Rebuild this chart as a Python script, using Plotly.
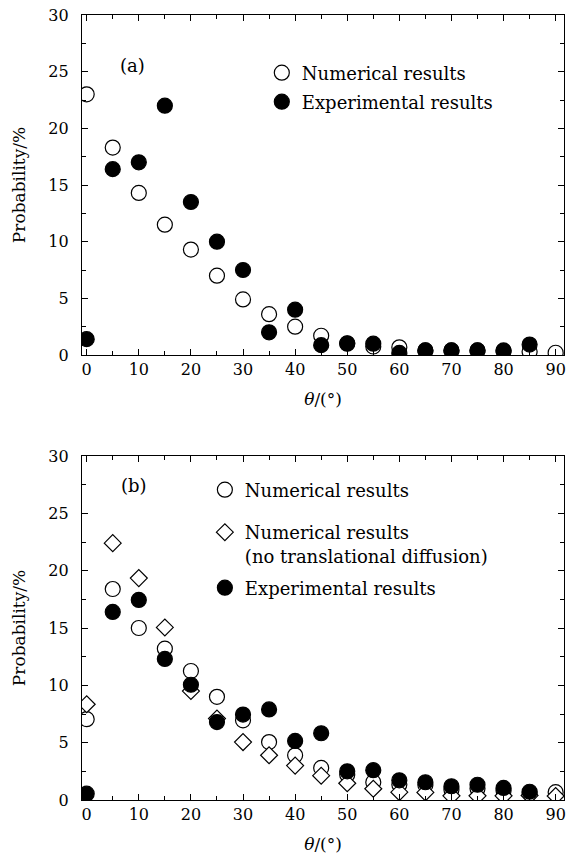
import plotly.graph_objects as go

# ---------------- data ----------------
theta = [0, 5, 10, 15, 20, 25, 30, 35, 40, 45, 50, 55, 60, 65, 70, 75, 80, 85, 90]
theta_exp = [0, 5, 10, 15, 20, 25, 30, 35, 40, 45, 50, 55, 60, 65, 70, 75, 80, 85]

a_numerical = [23.0, 18.3, 14.3, 11.5, 9.3, 7.0, 4.9, 3.6, 2.5, 1.7, 1.0, 0.75, 0.68,
               0.4, 0.4, 0.4, 0.35, 0.3, 0.2]
a_experimental = [1.4, 16.4, 17.0, 22.0, 13.5, 10.0, 7.5, 2.0, 4.0, 0.87, 1.03, 1.0,
                  0.18, 0.4, 0.4, 0.4, 0.4, 0.92]

b_numerical = [7.05, 18.4, 15.0, 13.2, 11.25, 9.0, 6.95, 5.05, 3.9, 2.8, 2.2, 1.55,
               1.35, 1.3, 0.9, 1.0, 0.8, 0.6, 0.68]
b_no_diffusion = [8.35, 22.4, 19.35, 15.05, 9.5, 7.1, 5.05, 3.9, 3.0, 2.12, 1.46, 0.98,
                  0.68, 0.66, 0.36, 0.36, 0.36, 0.4, 0.35]
b_experimental = [0.55, 16.4, 17.45, 12.3, 10.05, 6.8, 7.45, 7.9, 5.15, 5.82, 2.5, 2.6,
                  1.72, 1.55, 1.2, 1.33, 1.05, 0.72]

x_ticks = [0, 10, 20, 30, 40, 50, 60, 70, 80, 90]
y_ticks = [0, 5, 10, 15, 20, 25, 30]

FONT = "DejaVu Serif"
TICK_FS = 16
LEG_FS = 18
TITLE_FS = 17
W, H = 567, 856
ML, MR, MT, MB = 82, 2.5, 15, 56
PH = H - MT - MB


def py(pix):
    return (H - MB - pix) / PH


def px(pix):
    return (pix - ML) / (W - ML - MR)


open_circle = dict(symbol="circle", size=15, color="white", line=dict(color="black", width=1.2))
filled_circle = dict(symbol="circle", size=15, color="black", line=dict(color="black", width=1.2))
open_diamond = dict(symbol="diamond", size=13, color="white", line=dict(color="black", width=1.2))

fig = go.Figure()

# panel (a)
fig.add_trace(go.Scatter(x=theta, y=a_numerical, mode="markers", marker=open_circle,
                         name="Numerical results", xaxis="x", yaxis="y", legend="legend"))
fig.add_trace(go.Scatter(x=theta_exp, y=a_experimental, mode="markers", marker=filled_circle,
                         name="Experimental results", xaxis="x", yaxis="y", legend="legend2"))

# panel (b)
fig.add_trace(go.Scatter(x=theta, y=b_numerical, mode="markers", marker=open_circle,
                         name="Numerical results", xaxis="x2", yaxis="y2", legend="legend3"))
fig.add_trace(go.Scatter(x=theta, y=b_no_diffusion, mode="markers", marker=open_diamond,
                         name="Numerical results<br>(no translational diffusion)",
                         xaxis="x2", yaxis="y2", legend="legend4"))
fig.add_trace(go.Scatter(x=theta_exp, y=b_experimental, mode="markers", marker=filled_circle,
                         name="Experimental results", xaxis="x2", yaxis="y2", legend="legend5"))

axis_common = dict(
    showline=True, linecolor="black", linewidth=1.2, mirror="allticks",
    ticks="inside", ticklen=6, tickwidth=1, tickcolor="black",
    showgrid=False, zeroline=False,
    tickfont=dict(family=FONT, size=TICK_FS, color="black"),
)
xcommon = dict(axis_common, range=[-0.9, 91.6], tickvals=x_ticks,
               minor=dict(dtick=5, tick0=0, ticks="inside", ticklen=3.5, tickwidth=1, tickcolor="black"),
               title=dict(text="<i>θ</i>/(°)", font=dict(family=FONT, size=TITLE_FS, color="black"), standoff=14))
ycommon = dict(axis_common, range=[0, 30], tickvals=y_ticks, ticklabelstandoff=9,
               minor=dict(dtick=2.5, tick0=0, ticks="inside", ticklen=3.5, tickwidth=1, tickcolor="black"),
               title=dict(text="Probability/%", font=dict(family=FONT, size=TITLE_FS, color="black"), standoff=18))

legend_common = dict(font=dict(family=FONT, size=LEG_FS, color="black"), bgcolor="rgba(0,0,0,0)",
                     xanchor="left", yanchor="middle", itemsizing="trace", valign="top",
                     borderwidth=0)

fig.update_layout(
    width=W, height=H,
    margin=dict(l=ML, r=MR, t=MT, b=MB),
    paper_bgcolor="white", plot_bgcolor="white",
    showlegend=True,
    xaxis=dict(xcommon, domain=[0, 1], anchor="y"),
    yaxis=dict(ycommon, domain=[py(355), 1.0], anchor="x"),
    xaxis2=dict(xcommon, domain=[0, 1], anchor="y2"),
    yaxis2=dict(ycommon, domain=[0, py(456)], anchor="x2"),
    legend=dict(legend_common, x=px(262), y=py(73)),
    legend2=dict(legend_common, x=px(262), y=py(102)),
    legend3=dict(legend_common, x=px(205), y=py(490)),
    legend4=dict(legend_common, x=px(205), y=py(514), yanchor="top"),
    legend5=dict(legend_common, x=px(205), y=py(588)),
    annotations=[
        dict(text="(a)", xref="paper", yref="paper", x=px(118), y=py(53), showarrow=False,
             font=dict(family=FONT, size=LEG_FS, color="black")),
        dict(text="(b)", xref="paper", yref="paper", x=px(119), y=py(485), showarrow=False,
             font=dict(family=FONT, size=LEG_FS, color="black")),
    ],
)

fig.write_html("out.html", config={"displayModeBar": False},
               post_script="document.body.style.margin='0';")
